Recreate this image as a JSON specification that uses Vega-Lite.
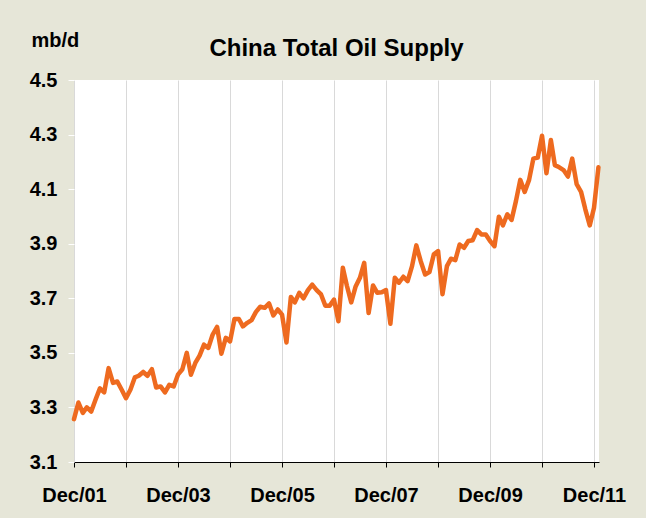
{
  "$schema": "https://vega.github.io/schema/vega-lite/v6.json",
  "autosize": "none",
  "width": 525,
  "height": 382,
  "padding": {"left": 74, "top": 80, "right": 47, "bottom": 56},
  "background": "#E6E6D8",
  "title": {
    "text": "China Total Oil Supply",
    "font": "Liberation Sans",
    "fontSize": 24,
    "fontWeight": "bold",
    "color": "#000000",
    "anchor": "middle",
    "baseline": "alphabetic",
    "offset": -50
  },
  "data": {
    "values": [
      {"d": "2001-12-01", "v": 3.257}, {"d": "2002-01-01", "v": 3.318}, {"d": "2002-02-01", "v": 3.28}, {"d": "2002-03-01", "v": 3.30},
      {"d": "2002-04-01", "v": 3.285}, {"d": "2002-05-01", "v": 3.328}, {"d": "2002-06-01", "v": 3.37}, {"d": "2002-07-01", "v": 3.355},
      {"d": "2002-08-01", "v": 3.444}, {"d": "2002-09-01", "v": 3.39}, {"d": "2002-10-01", "v": 3.395}, {"d": "2002-11-01", "v": 3.365},
      {"d": "2002-12-01", "v": 3.334}, {"d": "2003-01-01", "v": 3.365}, {"d": "2003-02-01", "v": 3.41}, {"d": "2003-03-01", "v": 3.416},
      {"d": "2003-04-01", "v": 3.43}, {"d": "2003-05-01", "v": 3.416}, {"d": "2003-06-01", "v": 3.44}, {"d": "2003-07-01", "v": 3.373},
      {"d": "2003-08-01", "v": 3.377}, {"d": "2003-09-01", "v": 3.355}, {"d": "2003-10-01", "v": 3.383}, {"d": "2003-11-01", "v": 3.377},
      {"d": "2003-12-01", "v": 3.42}, {"d": "2004-01-01", "v": 3.44}, {"d": "2004-02-01", "v": 3.50}, {"d": "2004-03-01", "v": 3.42},
      {"d": "2004-04-01", "v": 3.463}, {"d": "2004-05-01", "v": 3.49}, {"d": "2004-06-01", "v": 3.53}, {"d": "2004-07-01", "v": 3.518},
      {"d": "2004-08-01", "v": 3.567}, {"d": "2004-09-01", "v": 3.595}, {"d": "2004-10-01", "v": 3.497}, {"d": "2004-11-01", "v": 3.555},
      {"d": "2004-12-01", "v": 3.542}, {"d": "2005-01-01", "v": 3.624}, {"d": "2005-02-01", "v": 3.624}, {"d": "2005-03-01", "v": 3.597},
      {"d": "2005-04-01", "v": 3.61}, {"d": "2005-05-01", "v": 3.62}, {"d": "2005-06-01", "v": 3.65}, {"d": "2005-07-01", "v": 3.669},
      {"d": "2005-08-01", "v": 3.665}, {"d": "2005-09-01", "v": 3.681}, {"d": "2005-10-01", "v": 3.637}, {"d": "2005-11-01", "v": 3.659},
      {"d": "2005-12-01", "v": 3.64}, {"d": "2006-01-01", "v": 3.538}, {"d": "2006-02-01", "v": 3.705}, {"d": "2006-03-01", "v": 3.685},
      {"d": "2006-04-01", "v": 3.72}, {"d": "2006-05-01", "v": 3.70}, {"d": "2006-06-01", "v": 3.73}, {"d": "2006-07-01", "v": 3.75},
      {"d": "2006-08-01", "v": 3.73}, {"d": "2006-09-01", "v": 3.714}, {"d": "2006-10-01", "v": 3.673}, {"d": "2006-11-01", "v": 3.673},
      {"d": "2006-12-01", "v": 3.695}, {"d": "2007-01-01", "v": 3.616}, {"d": "2007-02-01", "v": 3.812}, {"d": "2007-03-01", "v": 3.747},
      {"d": "2007-04-01", "v": 3.685}, {"d": "2007-05-01", "v": 3.742}, {"d": "2007-06-01", "v": 3.775}, {"d": "2007-07-01", "v": 3.83},
      {"d": "2007-08-01", "v": 3.646}, {"d": "2007-09-01", "v": 3.747}, {"d": "2007-10-01", "v": 3.72}, {"d": "2007-11-01", "v": 3.722},
      {"d": "2007-12-01", "v": 3.73}, {"d": "2008-01-01", "v": 3.607}, {"d": "2008-02-01", "v": 3.775}, {"d": "2008-03-01", "v": 3.757},
      {"d": "2008-04-01", "v": 3.779}, {"d": "2008-05-01", "v": 3.763}, {"d": "2008-06-01", "v": 3.818}, {"d": "2008-07-01", "v": 3.894},
      {"d": "2008-08-01", "v": 3.836}, {"d": "2008-09-01", "v": 3.787}, {"d": "2008-10-01", "v": 3.796}, {"d": "2008-11-01", "v": 3.861},
      {"d": "2008-12-01", "v": 3.873}, {"d": "2009-01-01", "v": 3.715}, {"d": "2009-02-01", "v": 3.818}, {"d": "2009-03-01", "v": 3.845},
      {"d": "2009-04-01", "v": 3.84}, {"d": "2009-05-01", "v": 3.897}, {"d": "2009-06-01", "v": 3.885}, {"d": "2009-07-01", "v": 3.91},
      {"d": "2009-08-01", "v": 3.913}, {"d": "2009-09-01", "v": 3.95}, {"d": "2009-10-01", "v": 3.934}, {"d": "2009-11-01", "v": 3.934},
      {"d": "2009-12-01", "v": 3.91}, {"d": "2010-01-01", "v": 3.891}, {"d": "2010-02-01", "v": 3.999}, {"d": "2010-03-01", "v": 3.967},
      {"d": "2010-04-01", "v": 4.008}, {"d": "2010-05-01", "v": 3.987}, {"d": "2010-06-01", "v": 4.057}, {"d": "2010-07-01", "v": 4.134},
      {"d": "2010-08-01", "v": 4.09}, {"d": "2010-09-01", "v": 4.134}, {"d": "2010-10-01", "v": 4.212}, {"d": "2010-11-01", "v": 4.216},
      {"d": "2010-12-01", "v": 4.296}, {"d": "2011-01-01", "v": 4.158}, {"d": "2011-02-01", "v": 4.28}, {"d": "2011-03-01", "v": 4.188},
      {"d": "2011-04-01", "v": 4.18}, {"d": "2011-05-01", "v": 4.17}, {"d": "2011-06-01", "v": 4.146}, {"d": "2011-07-01", "v": 4.212},
      {"d": "2011-08-01", "v": 4.118}, {"d": "2011-09-01", "v": 4.09}, {"d": "2011-10-01", "v": 4.026}, {"d": "2011-11-01", "v": 3.967},
      {"d": "2011-12-01", "v": 4.032}, {"d": "2012-01-01", "v": 4.18}
    ]
  },
  "mark": {"type": "line", "color": "#EE6A1F", "strokeWidth": 4.5, "strokeJoin": "round", "strokeCap": "round", "clip": false},
  "encoding": {
    "x": {
      "field": "d",
      "type": "temporal",
      "scale": {
        "type": "utc",
        "domain": [
          {"year": 2001, "month": 12, "date": 1, "utc": true},
          {"year": 2012, "month": 1, "date": 5, "utc": true}
        ]
      },
      "axis": {
        "title": null,
        "values": [
          {"year": 2001, "month": 12, "date": 1, "utc": true},
          {"year": 2002, "month": 12, "date": 1, "utc": true},
          {"year": 2003, "month": 12, "date": 1, "utc": true},
          {"year": 2004, "month": 12, "date": 1, "utc": true},
          {"year": 2005, "month": 12, "date": 1, "utc": true},
          {"year": 2006, "month": 12, "date": 1, "utc": true},
          {"year": 2007, "month": 12, "date": 1, "utc": true},
          {"year": 2008, "month": 12, "date": 1, "utc": true},
          {"year": 2009, "month": 12, "date": 1, "utc": true},
          {"year": 2010, "month": 12, "date": 1, "utc": true},
          {"year": 2011, "month": 12, "date": 1, "utc": true}
        ],
        "labelExpr": "utcyear(datum.value) % 2 == 1 ? utcFormat(datum.value, '%b/%y') : ''",
        "labelFont": "Liberation Sans",
        "labelFontSize": 20,
        "labelFontWeight": "bold",
        "labelColor": "#000000",
        "labelPadding": 18,
        "labelOverlap": false,
        "labelFlush": false,
        "tickSize": 5,
        "tickColor": "#000000",
        "tickWidth": 1,
        "domainColor": "#000000",
        "domainWidth": 1,
        "grid": true,
        "gridColor": "#D9D9D9",
        "gridWidth": 1
      }
    },
    "y": {
      "field": "v",
      "type": "quantitative",
      "scale": {"domain": [3.1, 4.5], "nice": false, "zero": false},
      "axis": {
        "title": "mb/d",
        "titleAngle": 0,
        "titleAlign": "left",
        "titleBaseline": "alphabetic",
        "titleX": -43,
        "titleY": -34,
        "titleFont": "Liberation Sans",
        "titleFontSize": 20,
        "titleFontWeight": "bold",
        "titleColor": "#000000",
        "values": [3.1, 3.3, 3.5, 3.7, 3.9, 4.1, 4.3, 4.5],
        "format": ".1f",
        "labelFont": "Liberation Sans",
        "labelFontSize": 20,
        "labelFontWeight": "bold",
        "labelColor": "#000000",
        "labelPadding": 11,
        "labelOverlap": false,
        "labelFlush": false,
        "tickSize": 6,
        "tickColor": "#FFFFFF",
        "domain": false,
        "grid": false
      }
    }
  },
  "config": {
    "view": {"fill": "#FFFFFF", "stroke": null}
  }
}
